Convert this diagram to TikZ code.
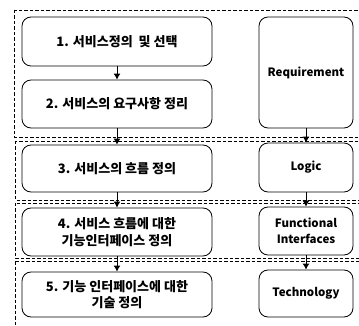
\documentclass[tikz,border=0pt]{standalone}
\usepackage{fontspec}
\setmainfont{Noto Sans CJK KR}
\usetikzlibrary{arrows.meta}

\tikzset{
  stepbox/.style={draw, line width=0.8pt, rounded corners=9pt, inner sep=0pt,
    align=center, font=\bfseries\fontsize{13}{16.5}\selectfont},
  levelbox/.style={stepbox, minimum width=94pt, font=\bfseries\fontsize{11.5}{15.5}\selectfont},
  layerbox/.style={draw, line width=0.6pt, dash pattern=on 3.5pt off 2pt},
  flow/.style={-{Latex[length=6pt,width=7pt]}, line width=1pt}
}

\begin{document}
\begin{tikzpicture}[x=1pt, y=-1pt]

\useasboundingbox (0,0) rectangle (359,326);

% --- Capas (marcos punteados) ---
\begin{scope}
\clip (0,0) rectangle (359,326);
\draw[layerbox] (14,10)  rectangle (364,137);
\draw[layerbox] (15,141) rectangle (364,200);
\draw[layerbox] (15,203) rectangle (364,258);
\draw[layerbox] (15,261) rectangle (364,340);
\end{scope}

% --- Pasos (columna izquierda) ---
\node[stepbox, minimum width=190pt, minimum height=49pt] (s1) at (117,41.5) {1. 서비스정의~ 및 선택};
\node[stepbox, minimum width=190pt, minimum height=48pt] (s2) at (117,104)  {2. 서비스의 요구사항 정리};
\node[stepbox, minimum width=190pt, minimum height=47pt] (s3) at (117,168.5) {3. 서비스의 흐름 정의};
\node[stepbox, minimum width=190pt, minimum height=48pt] (s4) at (117,232)  {4. 서비스 흐름에 대한\\기능인터페이스 정의};
\node[stepbox, minimum width=190pt, minimum height=45pt] (s5) at (117,294.5) {5. 기능 인터페이스에 대한\\기술 정의};

% --- Niveles (columna derecha) ---
\node[levelbox, minimum height=111pt] (req)  at (306,72.5)  {Requirement};
\node[levelbox, minimum height=49pt]  (log)  at (306,167.5) {Logic};
\node[levelbox, minimum height=48pt]  (func) at (306,231)   {Functional\\Interfaces};
\node[levelbox, minimum height=47pt]  (tech) at (306,293.5) {Technology};

% --- Flechas ---
\foreach \a/\b in {s1/s2, s2/s3, s3/s4, s4/s5, req/log, log/func, func/tech} {
  \draw[flow] (\a.south) -- (\b.north);
}

\end{tikzpicture}
\end{document}
